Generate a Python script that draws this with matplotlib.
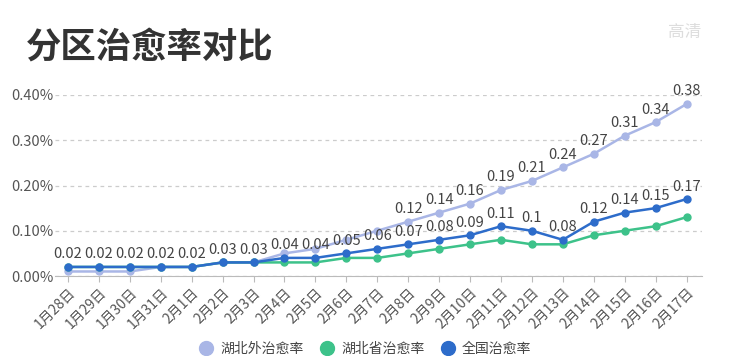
import matplotlib.pyplot as plt

plt.rcParams['font.family'] = ['Noto Sans CJK SC', 'DejaVu Sans']

# 数据
dates = ['1月28日', '1月29日', '1月30日', '1月31日', '2月1日', '2月2日', '2月3日',
         '2月4日', '2月5日', '2月6日', '2月7日', '2月8日', '2月9日', '2月10日',
         '2月11日', '2月12日', '2月13日', '2月14日', '2月15日', '2月16日', '2月17日']
outside_hubei = [0.01, 0.01, 0.01, 0.02, 0.02, 0.03, 0.03, 0.05, 0.06, 0.08, 0.10,
                 0.12, 0.14, 0.16, 0.19, 0.21, 0.24, 0.27, 0.31, 0.34, 0.38]
hubei = [0.02, 0.02, 0.02, 0.02, 0.02, 0.03, 0.03, 0.03, 0.03, 0.04, 0.04,
         0.05, 0.06, 0.07, 0.08, 0.07, 0.07, 0.09, 0.10, 0.11, 0.13]
national = [0.02, 0.02, 0.02, 0.02, 0.02, 0.03, 0.03, 0.04, 0.04, 0.05, 0.06,
            0.07, 0.08, 0.09, 0.11, 0.1, 0.08, 0.12, 0.14, 0.15, 0.17]
yticks = [0, 0.1, 0.2, 0.3, 0.4]
ytick_labels = ['0.00%', '0.10%', '0.20%', '0.30%', '0.40%']

c_out = '#a9b6e6'
c_hb = '#3dc28a'
c_nat = '#2d6cca'

fig = plt.figure(figsize=(7.39, 3.56), dpi=100)
ax = fig.add_axes([55 / 739, 1 - 276 / 356, 647 / 739, 181 / 356])

x = list(range(len(dates)))
ax.plot(x, outside_hubei, color=c_out, lw=1.8, marker='o', ms=5, label='湖北外治愈率', zorder=3)
ax.plot(x, hubei, color=c_hb, lw=1.8, marker='o', ms=5, label='湖北省治愈率', zorder=4)
ax.plot(x, national, color=c_nat, lw=1.8, marker='o', ms=5, label='全国治愈率', zorder=5)

# 数据标签
for xi, v in zip(x, national):
    ax.annotate(f'{v:g}', (xi, v), xytext=(0, 4), textcoords='offset points',
                ha='center', va='bottom', fontsize=10.5, color='#444444', zorder=6)
for xi, v in zip(x, outside_hubei):
    if v >= 0.12:
        ax.annotate(f'{v:g}', (xi, v), xytext=(0, 4), textcoords='offset points',
                    ha='center', va='bottom', fontsize=10.5, color='#444444', zorder=6)

ax.set_xlim(-0.42, 20.5)
ax.set_ylim(0, 0.4)
ax.set_yticks(yticks)
ax.set_yticklabels(ytick_labels, fontsize=10.5, color='#555555')
ax.set_xticks(x)
ax.set_xticklabels(dates, rotation=45, ha='right', rotation_mode='anchor',
                   fontsize=10, color='#555555')
ax.tick_params(axis='y', length=0, pad=1)
ax.tick_params(axis='x', length=4, color='#bbbbbb', pad=3)
ax.grid(axis='y', linestyle=(0, (3, 3)), color='#cccccc', lw=0.9)
ax.set_axisbelow(True)
for s in ['top', 'right', 'left']:
    ax.spines[s].set_visible(False)
ax.spines['bottom'].set_color('#bbbbbb')

fig.text(26 / 739, 1 - 48 / 356, '分区治愈率对比', fontsize=25.5, fontweight='bold',
         color='#333333', va='center')
fig.text(668 / 739, 1 - 33 / 356, '高清', fontsize=12, color='#dddddd', va='center')

fig.legend(loc='center', bbox_to_anchor=(366 / 739, 1 - 349 / 356), ncol=3,
           frameon=False, fontsize=10, handlelength=0.8, columnspacing=1.3,
           handletextpad=0.6, labelcolor='#444444')
for h in fig.legends[0].legend_handles:
    h.set_linestyle('none')
    h.set_markersize(10)

fig.savefig('out.png', dpi=100)
